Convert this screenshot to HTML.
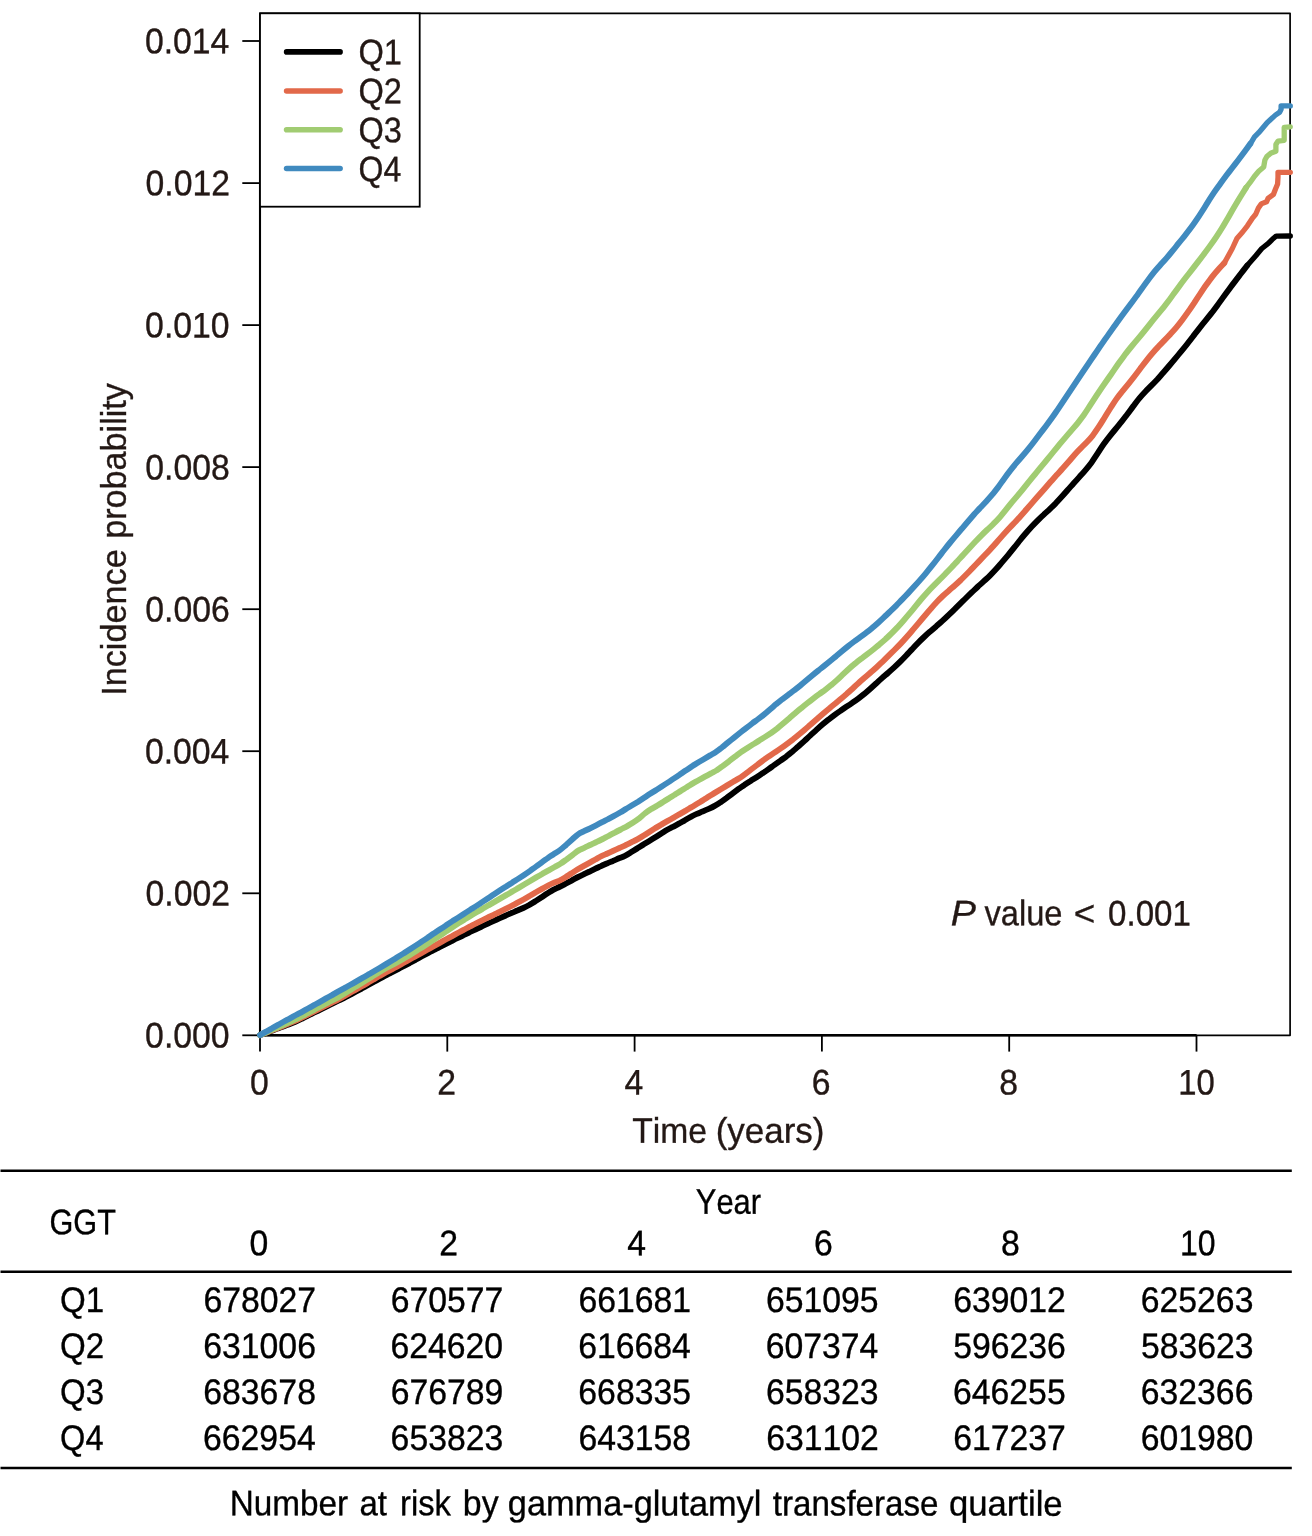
<!DOCTYPE html>
<html lang="en"><head><meta charset="utf-8"><title>Incidence probability by GGT quartile</title>
<style>
html,body{margin:0;padding:0;background:#fff;}
body{width:1312px;height:1536px;overflow:hidden;}
svg{display:block;}
text{font-family:"Liberation Sans",sans-serif;font-size:35.5px;font-kerning:none;stroke-width:0.35px;white-space:pre;}
.c{fill:#231815;stroke:#231815;}
.t{fill:#000;stroke:#000;}
.ln{fill:none;stroke-width:5.5;stroke-linecap:round;stroke-linejoin:round;}
.ax{stroke:#000;stroke-width:2.2;fill:none;}
.tk{stroke:#000;stroke-width:1.8;fill:none;}
.ru{stroke:#000;stroke-width:2.4;}
</style></head><body>
<svg width="1312" height="1536" viewBox="0 0 1312 1536">
<rect width="1312" height="1536" fill="#fff"/>

<rect class="ax" x="260" y="13.3" width="1030.1" height="1022" style="stroke-width:1.7;stroke-linejoin:round"/>
<line class="ax" x1="260" y1="1035.25" x2="1196.6" y2="1035.25" style="stroke-width:2.5"/>
<line class="ax" x1="260" y1="41" x2="260" y2="1035.3" style="stroke-width:2.1"/>
<line class="tk" x1="242.3" y1="1035.3" x2="260" y2="1035.3"/>
<text class="c" y="1047.60" transform="rotate(0.035 187.4 1047.6)"><tspan x="145.11" textLength="84.46" lengthAdjust="spacingAndGlyphs">0.000</tspan></text>
<line class="tk" x1="242.3" y1="893.3" x2="260" y2="893.3"/>
<text class="c" y="905.56" transform="rotate(0.035 187.6 905.6)"><tspan x="145.59" textLength="84.46" lengthAdjust="spacingAndGlyphs">0.002</tspan></text>
<line class="tk" x1="242.3" y1="751.2" x2="260" y2="751.2"/>
<text class="c" y="763.52" transform="rotate(0.035 187.2 763.5)"><tspan x="144.88" textLength="84.46" lengthAdjust="spacingAndGlyphs">0.004</tspan></text>
<line class="tk" x1="242.3" y1="609.2" x2="260" y2="609.2"/>
<text class="c" y="621.48" transform="rotate(0.035 187.5 621.5)"><tspan x="145.35" textLength="84.46" lengthAdjust="spacingAndGlyphs">0.006</tspan></text>
<line class="tk" x1="242.3" y1="467.1" x2="260" y2="467.1"/>
<text class="c" y="479.44" transform="rotate(0.035 187.5 479.4)"><tspan x="145.35" textLength="84.46" lengthAdjust="spacingAndGlyphs">0.008</tspan></text>
<line class="tk" x1="242.3" y1="325.1" x2="260" y2="325.1"/>
<text class="c" y="337.40" transform="rotate(0.035 187.4 337.4)"><tspan x="145.11" textLength="84.46" lengthAdjust="spacingAndGlyphs">0.010</tspan></text>
<line class="tk" x1="242.3" y1="183.1" x2="260" y2="183.1"/>
<text class="c" y="195.36" transform="rotate(0.035 187.6 195.4)"><tspan x="145.59" textLength="84.46" lengthAdjust="spacingAndGlyphs">0.012</tspan></text>
<line class="tk" x1="242.3" y1="41.0" x2="260" y2="41.0"/>
<text class="c" y="53.32" transform="rotate(0.035 187.2 53.3)"><tspan x="144.88" textLength="84.46" lengthAdjust="spacingAndGlyphs">0.014</tspan></text>
<line class="tk" x1="260.0" y1="1035.3" x2="260.0" y2="1051.6"/>
<text class="c" y="1094.60" transform="rotate(0.035 259.3 1094.6)"><tspan x="249.91" textLength="18.77" lengthAdjust="spacingAndGlyphs">0</tspan></text>
<line class="tk" x1="447.3" y1="1035.3" x2="447.3" y2="1051.6"/>
<text class="c" y="1094.60" transform="rotate(0.035 446.6 1094.6)"><tspan x="437.22" textLength="18.77" lengthAdjust="spacingAndGlyphs">2</tspan></text>
<line class="tk" x1="634.6" y1="1035.3" x2="634.6" y2="1051.6"/>
<text class="c" y="1094.60" transform="rotate(0.035 633.9 1094.6)"><tspan x="624.59" textLength="18.77" lengthAdjust="spacingAndGlyphs">4</tspan></text>
<line class="tk" x1="821.9" y1="1035.3" x2="821.9" y2="1051.6"/>
<text class="c" y="1094.60" transform="rotate(0.035 821.2 1094.6)"><tspan x="811.78" textLength="18.77" lengthAdjust="spacingAndGlyphs">6</tspan></text>
<line class="tk" x1="1009.2" y1="1035.3" x2="1009.2" y2="1051.6"/>
<text class="c" y="1094.60" transform="rotate(0.035 1008.5 1094.6)"><tspan x="999.15" textLength="18.77" lengthAdjust="spacingAndGlyphs">8</tspan></text>
<line class="tk" x1="1196.5" y1="1035.3" x2="1196.5" y2="1051.6"/>
<text class="c" y="1094.60" transform="rotate(0.035 1197.2 1094.6)"><tspan x="1178.36" textLength="36.50" lengthAdjust="spacingAndGlyphs">10</tspan></text>
<text class="c" y="1142.70" transform="rotate(0.035 727.6 1142.7)"><tspan x="632.19" textLength="74.76" lengthAdjust="spacingAndGlyphs">Time</tspan> <tspan x="715.68" textLength="108.79" lengthAdjust="spacingAndGlyphs">(years)</tspan></text>
<text class="c" transform="translate(126.3,692.7) rotate(-90)" y="0"><tspan x="-3.13" textLength="146.57" lengthAdjust="spacingAndGlyphs">Incidence</tspan> <tspan x="153.93" textLength="155.73" lengthAdjust="spacingAndGlyphs">probability</tspan></text>
<g stroke="#000000"><path class="ln" style="stroke-width:5.9" d="M260.0,1035.1 C261.0,1034.7 264.0,1033.6 266.0,1032.9 C268.0,1032.1 270.0,1031.4 272.0,1030.6 C274.0,1029.9 276.0,1029.2 277.9,1028.4 C279.9,1027.7 281.9,1026.9 283.9,1026.2 C285.9,1025.4 287.9,1024.7 289.9,1023.9 C291.9,1023.2 293.9,1022.4 295.9,1021.5 C297.9,1020.7 299.9,1019.7 301.9,1018.7 C303.9,1017.8 305.9,1016.7 307.9,1015.7 C309.9,1014.7 311.9,1013.7 313.8,1012.7 C315.8,1011.7 317.8,1010.8 319.8,1009.8 C321.8,1008.8 323.8,1007.8 325.8,1006.8 C327.8,1005.8 329.8,1004.8 331.8,1003.9 C333.8,1002.9 335.8,1001.9 337.8,1000.9 C339.8,1000.0 341.8,999.0 343.8,998.0 C345.8,997.0 347.8,995.9 349.7,994.9 C351.7,993.8 353.7,992.8 355.7,991.7 C357.7,990.6 359.7,989.5 361.7,988.5 C363.7,987.4 365.7,986.3 367.7,985.2 C369.7,984.1 371.7,983.0 373.7,981.9 C375.7,980.9 377.7,979.8 379.7,978.7 C381.7,977.6 383.6,976.6 385.6,975.5 C387.6,974.5 389.6,973.4 391.6,972.4 C393.6,971.3 395.6,970.3 397.6,969.3 C399.6,968.2 401.6,967.2 403.6,966.2 C405.6,965.1 407.6,964.0 409.6,963.0 C411.6,961.9 413.6,960.8 415.6,959.8 C417.6,958.7 419.5,957.6 421.5,956.5 C423.5,955.4 425.5,954.3 427.5,953.3 C429.5,952.2 431.5,951.2 433.5,950.1 C435.5,949.1 437.5,948.0 439.5,947.0 C441.5,946.0 443.5,945.0 445.5,944.0 C447.5,943.0 449.5,942.0 451.5,941.0 C453.5,940.0 455.4,939.0 457.4,938.1 C459.4,937.1 461.4,936.1 463.4,935.2 C465.4,934.2 467.4,933.3 469.4,932.3 C471.4,931.4 473.4,930.4 475.4,929.5 C477.4,928.5 479.4,927.6 481.4,926.7 C483.4,925.7 485.4,924.8 487.4,923.9 C489.3,922.9 491.3,922.0 493.3,921.1 C495.3,920.2 497.3,919.3 499.3,918.4 C501.3,917.5 503.3,916.6 505.3,915.7 C507.3,914.8 509.3,914.0 511.3,913.1 C513.3,912.3 515.3,911.4 517.3,910.6 C519.3,909.7 521.3,908.9 523.3,908.0 C525.2,907.1 527.2,906.1 529.2,905.0 C531.2,903.8 533.2,902.6 535.2,901.4 C537.2,900.1 539.2,898.8 541.2,897.5 C543.2,896.2 545.2,894.8 547.2,893.5 C549.2,892.3 551.2,891.0 553.2,889.9 C555.2,888.8 557.2,888.0 559.2,887.0 C561.1,886.0 563.1,885.0 565.1,884.0 C567.1,882.9 569.1,881.8 571.1,880.8 C573.1,879.7 575.1,878.5 577.1,877.5 C579.1,876.5 581.1,875.5 583.1,874.6 C585.1,873.6 587.1,872.7 589.1,871.8 C591.1,870.8 593.1,869.9 595.0,868.9 C597.0,868.0 599.0,867.0 601.0,866.1 C603.0,865.1 605.0,864.3 607.0,863.4 C609.0,862.6 611.0,861.7 613.0,860.9 C615.0,860.0 617.0,859.2 619.0,858.3 C621.0,857.5 623.0,856.8 625.0,855.8 C627.0,854.8 629.0,853.5 630.9,852.3 C632.9,851.1 634.9,849.8 636.9,848.6 C638.9,847.4 640.9,846.1 642.9,844.9 C644.9,843.7 646.9,842.4 648.9,841.2 C650.9,840.0 652.9,838.8 654.9,837.5 C656.9,836.3 658.9,835.0 660.9,833.7 C662.9,832.5 664.9,831.1 666.8,830.0 C668.8,828.8 670.8,827.9 672.8,826.9 C674.8,825.8 676.8,824.8 678.8,823.7 C680.8,822.6 682.8,821.4 684.8,820.3 C686.8,819.1 688.8,817.9 690.8,816.9 C692.8,815.8 694.8,814.8 696.8,813.9 C698.8,813.0 700.7,812.3 702.7,811.4 C704.7,810.6 706.7,809.8 708.7,808.9 C710.7,808.0 712.7,807.1 714.7,805.9 C716.7,804.8 718.7,803.6 720.7,802.2 C722.7,800.9 724.7,799.3 726.7,797.9 C728.7,796.4 730.7,794.8 732.7,793.3 C734.7,791.8 736.6,790.4 738.6,788.9 C740.6,787.5 742.6,786.2 744.6,784.8 C746.6,783.5 748.6,782.2 750.6,781.0 C752.6,779.7 754.6,778.5 756.6,777.2 C758.6,775.9 760.6,774.6 762.6,773.2 C764.6,771.9 766.6,770.5 768.6,769.1 C770.6,767.7 772.5,766.3 774.5,764.9 C776.5,763.5 778.5,762.1 780.5,760.7 C782.5,759.2 784.5,757.8 786.5,756.3 C788.5,754.7 790.5,753.1 792.5,751.5 C794.5,749.8 796.5,748.0 798.5,746.3 C800.5,744.5 802.5,742.7 804.5,740.9 C806.5,739.1 808.4,737.2 810.4,735.4 C812.4,733.6 814.4,731.7 816.4,729.9 C818.4,728.1 820.4,726.3 822.4,724.6 C824.4,722.9 826.4,721.2 828.4,719.7 C830.4,718.1 832.4,716.6 834.4,715.1 C836.4,713.6 838.4,712.2 840.4,710.9 C842.3,709.5 844.3,708.1 846.3,706.8 C848.3,705.5 850.3,704.2 852.3,702.8 C854.3,701.5 856.3,700.1 858.3,698.6 C860.3,697.1 862.3,695.5 864.3,693.9 C866.3,692.2 868.3,690.5 870.3,688.7 C872.3,686.9 874.3,685.1 876.3,683.3 C878.2,681.5 880.2,679.7 882.2,677.9 C884.2,676.1 886.2,674.5 888.2,672.7 C890.2,671.0 892.2,669.2 894.2,667.4 C896.2,665.6 898.2,663.7 900.2,661.7 C902.2,659.7 904.2,657.6 906.2,655.5 C908.2,653.4 910.2,651.2 912.2,649.1 C914.1,646.9 916.1,644.8 918.1,642.8 C920.1,640.8 922.1,638.9 924.1,637.0 C926.1,635.1 928.1,633.3 930.1,631.6 C932.1,629.8 934.1,628.1 936.1,626.4 C938.1,624.6 940.1,622.9 942.1,621.1 C944.1,619.3 946.1,617.5 948.0,615.6 C950.0,613.7 952.0,611.8 954.0,609.8 C956.0,607.9 958.0,605.9 960.0,603.9 C962.0,601.9 964.0,600.0 966.0,598.0 C968.0,596.0 970.0,594.0 972.0,592.1 C974.0,590.2 976.0,588.4 978.0,586.5 C980.0,584.7 982.0,583.0 983.9,581.2 C985.9,579.3 987.9,577.6 989.9,575.6 C991.9,573.6 993.9,571.5 995.9,569.3 C997.9,567.1 999.9,564.7 1001.9,562.4 C1003.9,560.0 1005.9,557.7 1007.9,555.3 C1009.9,552.9 1011.9,550.4 1013.9,547.9 C1015.9,545.5 1017.9,542.9 1019.8,540.5 C1021.8,538.0 1023.8,535.6 1025.8,533.3 C1027.8,530.9 1029.8,528.7 1031.8,526.5 C1033.8,524.3 1035.8,522.3 1037.8,520.3 C1039.8,518.3 1041.8,516.4 1043.8,514.6 C1045.8,512.7 1047.8,511.0 1049.8,509.1 C1051.8,507.2 1053.7,505.3 1055.7,503.3 C1057.7,501.2 1059.7,499.0 1061.7,496.8 C1063.7,494.6 1065.7,492.3 1067.7,490.0 C1069.7,487.8 1071.7,485.5 1073.7,483.3 C1075.7,481.1 1077.7,478.9 1079.7,476.6 C1081.7,474.4 1083.7,472.2 1085.7,469.8 C1087.7,467.4 1089.6,465.1 1091.6,462.4 C1093.6,459.6 1095.6,456.4 1097.6,453.4 C1099.6,450.4 1101.6,447.1 1103.6,444.3 C1105.6,441.5 1107.6,438.9 1109.6,436.4 C1111.6,433.8 1113.6,431.4 1115.6,429.0 C1117.6,426.5 1119.6,424.2 1121.6,421.7 C1123.6,419.2 1125.5,416.6 1127.5,414.0 C1129.5,411.4 1131.5,408.5 1133.5,405.9 C1135.5,403.2 1137.5,400.5 1139.5,398.1 C1141.5,395.7 1143.5,393.6 1145.5,391.5 C1147.5,389.4 1149.5,387.5 1151.5,385.4 C1153.5,383.4 1155.5,381.3 1157.5,379.2 C1159.4,377.0 1161.4,374.8 1163.4,372.5 C1165.4,370.2 1167.4,367.9 1169.4,365.5 C1171.4,363.2 1173.4,360.8 1175.4,358.4 C1177.4,356.0 1179.4,353.5 1181.4,351.1 C1183.4,348.7 1185.4,346.3 1187.4,343.7 C1189.4,341.2 1191.4,338.6 1193.4,336.0 C1195.3,333.5 1197.3,330.8 1199.3,328.3 C1201.3,325.8 1203.3,323.3 1205.3,320.9 C1207.3,318.4 1209.3,316.0 1211.3,313.4 C1213.3,310.8 1215.3,308.1 1217.3,305.4 C1219.3,302.7 1221.3,299.9 1223.3,297.1 C1225.3,294.4 1227.3,291.6 1229.3,288.9 C1231.2,286.3 1233.2,283.7 1235.2,281.1 C1237.2,278.4 1239.2,275.9 1241.2,273.3 C1243.2,270.7 1246.2,266.8 1247.2,265.5"/>
<path class="ln" style="stroke-width:5.3" d="M1247.2,265.5 L1256.0,255.5 L1261.8,248.5 L1268.0,243.7 L1272.1,239.6 L1276.2,236.1 L1290.3,236.0"/></g>
<g stroke="#E2694A"><path class="ln" style="stroke-width:5.9" d="M260.0,1035.1 C261.0,1034.7 264.0,1033.5 266.0,1032.7 C268.0,1031.9 270.0,1031.1 272.0,1030.3 C274.0,1029.5 276.0,1028.7 278.0,1027.9 C280.0,1027.0 282.0,1026.2 284.0,1025.4 C286.0,1024.6 288.0,1023.8 289.9,1023.0 C291.9,1022.2 293.9,1021.4 295.9,1020.5 C297.9,1019.6 299.9,1018.6 301.9,1017.6 C303.9,1016.7 305.9,1015.6 307.9,1014.6 C309.9,1013.6 311.9,1012.6 313.9,1011.6 C315.9,1010.6 317.9,1009.6 319.9,1008.6 C321.9,1007.6 323.9,1006.6 325.9,1005.6 C327.9,1004.6 329.9,1003.6 331.9,1002.6 C333.9,1001.6 335.9,1000.7 337.9,999.6 C339.9,998.6 341.9,997.5 343.9,996.4 C345.8,995.3 347.8,994.2 349.8,993.0 C351.8,991.9 353.8,990.7 355.8,989.6 C357.8,988.5 359.8,987.3 361.8,986.2 C363.8,985.0 365.8,983.9 367.8,982.8 C369.8,981.6 371.8,980.5 373.8,979.3 C375.8,978.2 377.8,977.0 379.8,975.8 C381.8,974.7 383.8,973.6 385.8,972.5 C387.8,971.4 389.8,970.3 391.8,969.3 C393.8,968.2 395.8,967.2 397.8,966.1 C399.8,965.0 401.8,963.9 403.7,962.8 C405.7,961.7 407.7,960.6 409.7,959.5 C411.7,958.4 413.7,957.2 415.7,956.1 C417.7,955.0 419.7,953.9 421.7,952.8 C423.7,951.7 425.7,950.6 427.7,949.5 C429.7,948.3 431.7,947.2 433.7,946.1 C435.7,945.0 437.7,943.9 439.7,942.8 C441.7,941.7 443.7,940.6 445.7,939.5 C447.7,938.4 449.7,937.3 451.7,936.3 C453.7,935.2 455.7,934.1 457.7,933.0 C459.6,931.9 461.6,930.9 463.6,929.8 C465.6,928.8 467.6,927.7 469.6,926.7 C471.6,925.7 473.6,924.6 475.6,923.6 C477.6,922.6 479.6,921.6 481.6,920.6 C483.6,919.7 485.6,918.7 487.6,917.7 C489.6,916.7 491.6,915.8 493.6,914.8 C495.6,913.8 497.6,912.9 499.6,911.9 C501.6,910.9 503.6,909.9 505.6,908.9 C507.6,907.9 509.6,906.9 511.6,905.9 C513.6,904.8 515.5,903.8 517.5,902.7 C519.5,901.7 521.5,900.6 523.5,899.5 C525.5,898.4 527.5,897.2 529.5,896.0 C531.5,894.9 533.5,893.7 535.5,892.5 C537.5,891.4 539.5,890.2 541.5,889.1 C543.5,887.9 545.5,886.8 547.5,885.8 C549.5,884.7 551.5,883.8 553.5,882.9 C555.5,882.1 557.5,881.5 559.5,880.6 C561.5,879.6 563.5,878.4 565.5,877.2 C567.5,876.0 569.5,874.6 571.5,873.4 C573.4,872.1 575.4,870.7 577.4,869.5 C579.4,868.3 581.4,867.2 583.4,866.1 C585.4,865.0 587.4,863.9 589.4,862.8 C591.4,861.7 593.4,860.6 595.4,859.5 C597.4,858.4 599.4,857.2 601.4,856.2 C603.4,855.2 605.4,854.4 607.4,853.5 C609.4,852.5 611.4,851.6 613.4,850.7 C615.4,849.8 617.4,848.9 619.4,848.0 C621.4,847.1 623.4,846.3 625.4,845.3 C627.4,844.4 629.3,843.4 631.3,842.4 C633.3,841.4 635.3,840.5 637.3,839.4 C639.3,838.3 641.3,837.1 643.3,835.8 C645.3,834.6 647.3,833.3 649.3,832.0 C651.3,830.7 653.3,829.4 655.3,828.1 C657.3,826.9 659.3,825.7 661.3,824.6 C663.3,823.4 665.3,822.3 667.3,821.2 C669.3,820.1 671.3,819.0 673.3,817.8 C675.3,816.7 677.3,815.5 679.3,814.3 C681.3,813.2 683.3,812.0 685.3,810.9 C687.2,809.7 689.2,808.6 691.2,807.4 C693.2,806.3 695.2,805.0 697.2,803.8 C699.2,802.6 701.2,801.3 703.2,800.1 C705.2,798.8 707.2,797.6 709.2,796.3 C711.2,795.1 713.2,793.8 715.2,792.6 C717.2,791.4 719.2,790.2 721.2,789.0 C723.2,787.7 725.2,786.6 727.2,785.4 C729.2,784.2 731.2,783.0 733.2,781.8 C735.2,780.6 737.2,779.6 739.2,778.3 C741.2,777.0 743.1,775.5 745.1,774.1 C747.1,772.6 749.1,771.1 751.1,769.5 C753.1,768.0 755.1,766.5 757.1,765.0 C759.1,763.4 761.1,761.9 763.1,760.4 C765.1,759.0 767.1,757.6 769.1,756.2 C771.1,754.9 773.1,753.6 775.1,752.2 C777.1,750.9 779.1,749.6 781.1,748.2 C783.1,746.8 785.1,745.3 787.1,743.8 C789.1,742.3 791.1,740.8 793.1,739.3 C795.1,737.7 797.1,736.1 799.0,734.5 C801.0,732.9 803.0,731.2 805.0,729.5 C807.0,727.8 809.0,726.0 811.0,724.3 C813.0,722.5 815.0,720.7 817.0,719.0 C819.0,717.2 821.0,715.4 823.0,713.7 C825.0,712.0 827.0,710.3 829.0,708.7 C831.0,707.0 833.0,705.4 835.0,703.8 C837.0,702.1 839.0,700.5 841.0,698.8 C843.0,697.1 845.0,695.4 847.0,693.6 C849.0,691.9 851.0,690.0 853.0,688.2 C855.0,686.4 856.9,684.5 858.9,682.7 C860.9,680.9 862.9,679.2 864.9,677.4 C866.9,675.7 868.9,674.1 870.9,672.3 C872.9,670.6 874.9,668.8 876.9,667.0 C878.9,665.2 880.9,663.2 882.9,661.3 C884.9,659.4 886.9,657.4 888.9,655.4 C890.9,653.4 892.9,651.5 894.9,649.5 C896.9,647.5 898.9,645.5 900.9,643.4 C902.9,641.3 904.9,639.1 906.9,636.8 C908.9,634.5 910.9,632.2 912.8,629.8 C914.8,627.5 916.8,625.1 918.8,622.8 C920.8,620.4 922.8,618.0 924.8,615.7 C926.8,613.3 928.8,610.9 930.8,608.7 C932.8,606.4 934.8,604.1 936.8,602.0 C938.8,599.9 940.8,597.9 942.8,596.0 C944.8,594.1 946.8,592.4 948.8,590.7 C950.8,588.9 952.8,587.3 954.8,585.5 C956.8,583.7 958.8,581.9 960.8,580.0 C962.8,578.0 964.8,576.0 966.8,574.0 C968.8,572.0 970.7,569.9 972.7,567.9 C974.7,565.8 976.7,563.7 978.7,561.6 C980.7,559.5 982.7,557.4 984.7,555.3 C986.7,553.2 988.7,551.1 990.7,548.9 C992.7,546.8 994.7,544.5 996.7,542.2 C998.7,540.0 1000.7,537.7 1002.7,535.4 C1004.7,533.2 1006.7,531.0 1008.7,528.8 C1010.7,526.7 1012.7,524.6 1014.7,522.5 C1016.7,520.3 1018.7,518.2 1020.7,516.0 C1022.7,513.8 1024.7,511.5 1026.6,509.3 C1028.6,507.0 1030.6,504.7 1032.6,502.4 C1034.6,500.1 1036.6,497.8 1038.6,495.6 C1040.6,493.3 1042.6,491.0 1044.6,488.7 C1046.6,486.4 1048.6,484.1 1050.6,481.8 C1052.6,479.6 1054.6,477.3 1056.6,475.1 C1058.6,472.9 1060.6,470.8 1062.6,468.5 C1064.6,466.3 1066.6,464.1 1068.6,461.8 C1070.6,459.5 1072.6,457.0 1074.6,454.7 C1076.6,452.5 1078.6,450.4 1080.6,448.4 C1082.5,446.3 1084.5,444.6 1086.5,442.5 C1088.5,440.4 1090.5,438.3 1092.5,435.8 C1094.5,433.2 1096.5,430.2 1098.5,427.2 C1100.5,424.2 1102.5,420.9 1104.5,417.7 C1106.5,414.5 1108.5,411.1 1110.5,408.0 C1112.5,404.9 1114.5,401.7 1116.5,398.9 C1118.5,396.1 1120.5,393.7 1122.5,391.2 C1124.5,388.7 1126.5,386.3 1128.5,383.9 C1130.5,381.4 1132.5,378.9 1134.5,376.3 C1136.5,373.7 1138.5,371.1 1140.4,368.4 C1142.4,365.8 1144.4,363.1 1146.4,360.6 C1148.4,358.0 1150.4,355.5 1152.4,353.2 C1154.4,350.9 1156.4,348.7 1158.4,346.6 C1160.4,344.4 1162.4,342.5 1164.4,340.4 C1166.4,338.3 1168.4,336.2 1170.4,334.1 C1172.4,331.9 1174.4,329.7 1176.4,327.3 C1178.4,324.9 1180.4,322.4 1182.4,319.7 C1184.4,317.1 1186.4,314.3 1188.4,311.4 C1190.4,308.6 1192.4,305.6 1194.4,302.6 C1196.3,299.6 1198.3,296.5 1200.3,293.6 C1202.3,290.6 1204.3,287.6 1206.3,284.8 C1208.3,282.0 1210.3,279.2 1212.3,276.6 C1214.3,274.1 1216.3,271.7 1218.3,269.5 C1220.3,267.2 1223.3,264.2 1224.3,263.1"/>
<path class="ln" style="stroke-width:5.3" d="M1224.3,263.1 L1232.3,248.5 L1237.1,238.2 L1242.6,232.0 L1247.4,225.8 L1252.9,217.6 L1255.7,214.2 L1258.4,208.0 L1261.2,203.9 L1266.6,201.8 L1268.0,198.4 L1273.5,194.3 L1275.6,188.8 L1277.6,184.0 L1278.0,177.1 L1278.0,172.3 L1290.3,172.3"/></g>
<g stroke="#A1CC72"><path class="ln" style="stroke-width:5.9" d="M260.0,1035.1 C261.0,1034.7 264.0,1033.3 266.0,1032.5 C268.0,1031.6 270.0,1030.7 272.0,1029.8 C274.0,1029.0 276.0,1028.1 278.0,1027.2 C280.0,1026.3 282.0,1025.5 284.1,1024.6 C286.1,1023.7 288.1,1022.8 290.1,1021.9 C292.1,1021.0 294.1,1020.2 296.1,1019.2 C298.1,1018.3 300.1,1017.2 302.1,1016.2 C304.1,1015.2 306.1,1014.1 308.1,1013.0 C310.1,1011.9 312.1,1010.9 314.1,1009.8 C316.1,1008.8 318.1,1007.7 320.1,1006.7 C322.1,1005.6 324.1,1004.6 326.1,1003.5 C328.1,1002.5 330.1,1001.5 332.2,1000.4 C334.2,999.4 336.2,998.4 338.2,997.3 C340.2,996.2 342.2,995.0 344.2,993.8 C346.2,992.6 348.2,991.4 350.2,990.1 C352.2,988.9 354.2,987.7 356.2,986.4 C358.2,985.2 360.2,984.0 362.2,982.7 C364.2,981.5 366.2,980.3 368.2,979.0 C370.2,977.8 372.2,976.5 374.2,975.3 C376.2,974.0 378.3,972.7 380.3,971.5 C382.3,970.2 384.3,969.1 386.3,968.0 C388.3,966.8 390.3,965.9 392.3,964.8 C394.3,963.8 396.3,962.7 398.3,961.6 C400.3,960.5 402.3,959.4 404.3,958.2 C406.3,957.1 408.3,955.9 410.3,954.7 C412.3,953.4 414.3,952.2 416.3,951.0 C418.3,949.7 420.3,948.5 422.3,947.2 C424.3,945.9 426.4,944.6 428.4,943.3 C430.4,941.9 432.4,940.6 434.4,939.3 C436.4,937.9 438.4,936.6 440.4,935.3 C442.4,933.9 444.4,932.6 446.4,931.2 C448.4,929.9 450.4,928.6 452.4,927.3 C454.4,926.0 456.4,924.7 458.4,923.4 C460.4,922.1 462.4,920.8 464.4,919.6 C466.4,918.3 468.4,917.1 470.4,915.9 C472.5,914.7 474.5,913.5 476.5,912.3 C478.5,911.1 480.5,909.9 482.5,908.8 C484.5,907.6 486.5,906.5 488.5,905.3 C490.5,904.2 492.5,903.0 494.5,901.9 C496.5,900.7 498.5,899.6 500.5,898.4 C502.5,897.2 504.5,896.1 506.5,894.9 C508.5,893.8 510.5,892.6 512.5,891.4 C514.5,890.3 516.5,889.1 518.6,887.9 C520.6,886.7 522.6,885.5 524.6,884.3 C526.6,883.1 528.6,881.9 530.6,880.7 C532.6,879.5 534.6,878.3 536.6,877.1 C538.6,876.0 540.6,874.9 542.6,873.7 C544.6,872.6 546.6,871.5 548.6,870.4 C550.6,869.2 552.6,868.1 554.6,867.0 C556.6,865.8 558.6,864.9 560.6,863.6 C562.6,862.3 564.6,860.8 566.7,859.3 C568.7,857.8 570.7,856.3 572.7,854.8 C574.7,853.3 576.7,851.6 578.7,850.4 C580.7,849.2 582.7,848.6 584.7,847.6 C586.7,846.7 588.7,845.7 590.7,844.8 C592.7,843.8 594.7,842.9 596.7,841.9 C598.7,841.0 600.7,840.0 602.7,839.0 C604.7,838.0 606.7,836.8 608.7,835.8 C610.7,834.7 612.8,833.6 614.8,832.6 C616.8,831.5 618.8,830.5 620.8,829.5 C622.8,828.4 624.8,827.5 626.8,826.4 C628.8,825.2 630.8,824.0 632.8,822.7 C634.8,821.5 636.8,820.2 638.8,818.7 C640.8,817.1 642.8,815.0 644.8,813.5 C646.8,811.9 648.8,810.6 650.8,809.3 C652.8,808.1 654.8,807.1 656.8,805.9 C658.8,804.6 660.9,803.3 662.9,802.1 C664.9,800.8 666.9,799.6 668.9,798.4 C670.9,797.1 672.9,795.9 674.9,794.6 C676.9,793.4 678.9,792.1 680.9,790.9 C682.9,789.6 684.9,788.4 686.9,787.1 C688.9,785.9 690.9,784.6 692.9,783.4 C694.9,782.2 696.9,781.2 698.9,780.0 C700.9,778.9 702.9,777.8 704.9,776.7 C707.0,775.6 709.0,774.5 711.0,773.4 C713.0,772.3 715.0,771.4 717.0,770.1 C719.0,768.9 721.0,767.3 723.0,765.8 C725.0,764.3 727.0,762.8 729.0,761.3 C731.0,759.7 733.0,758.2 735.0,756.7 C737.0,755.2 739.0,753.6 741.0,752.2 C743.0,750.8 745.0,749.6 747.0,748.3 C749.0,747.0 751.0,745.7 753.0,744.4 C755.1,743.1 757.1,741.8 759.1,740.6 C761.1,739.3 763.1,738.2 765.1,736.9 C767.1,735.6 769.1,734.3 771.1,733.0 C773.1,731.6 775.1,730.1 777.1,728.6 C779.1,727.0 781.1,725.3 783.1,723.6 C785.1,721.9 787.1,720.1 789.1,718.4 C791.1,716.7 793.1,714.9 795.1,713.2 C797.1,711.5 799.1,709.8 801.2,708.2 C803.2,706.5 805.2,704.9 807.2,703.3 C809.2,701.7 811.2,700.1 813.2,698.6 C815.2,697.1 817.2,695.6 819.2,694.2 C821.2,692.7 823.2,691.3 825.2,689.8 C827.2,688.3 829.2,686.8 831.2,685.1 C833.2,683.5 835.2,681.7 837.2,679.9 C839.2,678.1 841.2,676.1 843.2,674.2 C845.2,672.3 847.3,670.3 849.3,668.5 C851.3,666.7 853.3,665.0 855.3,663.4 C857.3,661.7 859.3,660.2 861.3,658.7 C863.3,657.1 865.3,655.6 867.3,654.1 C869.3,652.6 871.3,651.1 873.3,649.5 C875.3,647.9 877.3,646.2 879.3,644.6 C881.3,642.9 883.3,641.2 885.3,639.4 C887.3,637.5 889.3,635.7 891.3,633.7 C893.3,631.7 895.4,629.5 897.4,627.4 C899.4,625.2 901.4,623.0 903.4,620.7 C905.4,618.4 907.4,616.1 909.4,613.7 C911.4,611.3 913.4,608.8 915.4,606.4 C917.4,603.9 919.4,601.4 921.4,599.0 C923.4,596.7 925.4,594.4 927.4,592.2 C929.4,590.0 931.4,587.9 933.4,585.9 C935.4,583.8 937.4,581.8 939.4,579.8 C941.5,577.8 943.5,575.8 945.5,573.7 C947.5,571.7 949.5,569.6 951.5,567.5 C953.5,565.4 955.5,563.2 957.5,561.1 C959.5,558.9 961.5,556.8 963.5,554.6 C965.5,552.4 967.5,550.2 969.5,548.0 C971.5,545.8 973.5,543.6 975.5,541.5 C977.5,539.4 979.5,537.3 981.5,535.3 C983.5,533.3 985.5,531.4 987.5,529.5 C989.6,527.6 991.6,525.8 993.6,523.7 C995.6,521.7 997.6,519.6 999.6,517.4 C1001.6,515.1 1003.6,512.6 1005.6,510.1 C1007.6,507.7 1009.6,505.2 1011.6,502.7 C1013.6,500.3 1015.6,498.0 1017.6,495.6 C1019.6,493.2 1021.6,490.8 1023.6,488.3 C1025.6,485.9 1027.6,483.3 1029.6,480.9 C1031.6,478.4 1033.6,475.9 1035.7,473.5 C1037.7,471.0 1039.7,468.6 1041.7,466.2 C1043.7,463.8 1045.7,461.4 1047.7,458.9 C1049.7,456.5 1051.7,454.0 1053.7,451.5 C1055.7,449.1 1057.7,446.6 1059.7,444.2 C1061.7,441.8 1063.7,439.4 1065.7,437.1 C1067.7,434.7 1069.7,432.4 1071.7,430.1 C1073.7,427.8 1075.7,425.6 1077.7,423.1 C1079.7,420.5 1081.7,417.9 1083.8,415.0 C1085.8,412.2 1087.8,409.0 1089.8,405.9 C1091.8,402.9 1093.8,399.8 1095.8,396.7 C1097.8,393.7 1099.8,390.7 1101.8,387.7 C1103.8,384.8 1105.8,381.9 1107.8,379.0 C1109.8,376.1 1111.8,373.3 1113.8,370.4 C1115.8,367.5 1117.8,364.6 1119.8,361.8 C1121.8,359.1 1123.8,356.3 1125.8,353.6 C1127.8,351.0 1129.9,348.4 1131.9,346.0 C1133.9,343.6 1135.9,341.3 1137.9,338.9 C1139.9,336.5 1141.9,334.1 1143.9,331.6 C1145.9,329.1 1147.9,326.6 1149.9,324.1 C1151.9,321.6 1153.9,319.1 1155.9,316.7 C1157.9,314.2 1159.9,311.8 1161.9,309.4 C1163.9,306.9 1165.9,304.5 1167.9,301.8 C1169.9,299.2 1171.9,296.3 1173.9,293.5 C1176.0,290.7 1178.0,287.9 1180.0,285.2 C1182.0,282.5 1184.0,279.9 1186.0,277.3 C1188.0,274.7 1190.0,272.2 1192.0,269.6 C1194.0,267.1 1196.0,264.5 1198.0,261.9 C1200.0,259.3 1202.0,256.7 1204.0,254.0 C1206.0,251.4 1208.0,248.7 1210.0,245.9 C1212.0,243.2 1214.0,240.4 1216.0,237.4 C1218.0,234.4 1220.0,231.3 1222.0,228.0 C1224.1,224.7 1226.1,221.1 1228.1,217.7 C1230.1,214.2 1232.1,210.6 1234.1,207.2 C1236.1,203.8 1238.1,200.5 1240.1,197.2 C1242.1,194.0 1245.1,189.3 1246.1,187.7"/>
<path class="ln" style="stroke-width:5.3" d="M1246.1,187.7 L1250.3,182.2 L1254.3,176.5 L1258.7,171.3 L1263.7,167.0 L1264.9,160.0 L1267.1,156.2 L1271.2,152.9 L1275.9,151.2 L1275.9,144.5 L1278.0,141.1 L1284.2,140.3 L1284.2,127.3 L1290.3,126.9"/></g>
<g stroke="#408ABF"><path class="ln" style="stroke-width:5.9" d="M260.0,1035.1 C261.0,1034.5 264.0,1032.8 266.0,1031.7 C268.0,1030.5 270.0,1029.4 272.0,1028.3 C274.0,1027.1 276.0,1026.0 278.0,1024.9 C280.0,1023.8 282.0,1022.6 284.0,1021.5 C286.0,1020.4 288.0,1019.4 290.0,1018.3 C292.0,1017.2 294.0,1016.1 296.0,1015.0 C298.0,1013.9 300.0,1012.9 302.0,1011.8 C304.0,1010.7 306.0,1009.6 308.0,1008.5 C310.0,1007.4 312.0,1006.3 314.0,1005.2 C316.0,1004.1 318.0,1002.9 320.0,1001.8 C322.0,1000.7 324.0,999.6 326.0,998.4 C328.0,997.3 330.0,996.2 332.0,995.1 C334.0,993.9 336.0,992.8 338.0,991.7 C340.0,990.6 342.0,989.5 344.0,988.4 C346.0,987.2 348.0,986.1 350.0,985.0 C352.0,983.9 354.0,982.8 356.0,981.6 C358.0,980.5 360.0,979.3 362.0,978.2 C364.0,977.1 366.0,975.9 368.0,974.7 C370.0,973.6 372.0,972.4 374.0,971.2 C376.0,970.0 378.0,968.9 380.0,967.7 C382.0,966.5 384.0,965.3 386.0,964.1 C388.0,962.9 390.0,961.7 392.0,960.5 C394.0,959.3 396.0,958.0 398.0,956.8 C400.0,955.6 402.0,954.4 404.0,953.1 C406.0,951.9 408.0,950.6 410.0,949.3 C412.0,948.0 414.0,946.7 416.0,945.4 C418.0,944.1 420.0,942.8 422.0,941.4 C424.0,940.1 426.1,938.7 428.1,937.3 C430.1,936.0 432.1,934.6 434.1,933.3 C436.1,931.9 438.1,930.6 440.1,929.3 C442.1,928.0 444.1,926.7 446.1,925.3 C448.1,924.0 450.1,922.7 452.1,921.4 C454.1,920.1 456.1,918.9 458.1,917.6 C460.1,916.3 462.1,915.0 464.1,913.7 C466.1,912.5 468.1,911.2 470.1,909.9 C472.1,908.6 474.1,907.4 476.1,906.1 C478.1,904.8 480.1,903.5 482.1,902.1 C484.1,900.8 486.1,899.5 488.1,898.2 C490.1,896.9 492.1,895.5 494.1,894.2 C496.1,892.9 498.1,891.6 500.1,890.3 C502.1,889.0 504.1,887.7 506.1,886.5 C508.1,885.2 510.1,883.9 512.1,882.7 C514.1,881.4 516.1,880.2 518.1,878.9 C520.1,877.6 522.1,876.3 524.1,875.0 C526.1,873.7 528.1,872.3 530.1,870.9 C532.1,869.4 534.1,868.0 536.1,866.5 C538.1,865.0 540.1,863.6 542.1,862.1 C544.1,860.7 546.1,859.2 548.1,857.8 C550.1,856.4 552.1,855.2 554.1,853.8 C556.1,852.5 558.1,851.5 560.1,850.0 C562.1,848.5 564.1,846.6 566.1,844.9 C568.1,843.1 570.1,841.3 572.1,839.5 C574.1,837.8 576.1,835.7 578.1,834.3 C580.1,832.9 582.1,832.2 584.1,831.2 C586.1,830.2 588.1,829.3 590.1,828.3 C592.1,827.3 594.1,826.3 596.1,825.3 C598.1,824.3 600.1,823.3 602.1,822.2 C604.1,821.2 606.1,820.1 608.1,819.1 C610.1,818.0 612.1,816.9 614.1,815.8 C616.1,814.8 618.1,813.7 620.1,812.5 C622.1,811.4 624.1,810.1 626.1,808.9 C628.1,807.6 630.1,806.5 632.1,805.3 C634.1,804.1 636.1,802.9 638.1,801.7 C640.1,800.4 642.1,799.1 644.1,797.8 C646.1,796.5 648.1,795.1 650.1,793.8 C652.1,792.5 654.1,791.3 656.1,790.1 C658.1,788.8 660.1,787.5 662.1,786.2 C664.1,785.0 666.1,783.7 668.1,782.4 C670.1,781.1 672.1,779.7 674.1,778.4 C676.1,777.1 678.1,775.7 680.1,774.3 C682.1,773.0 684.1,771.6 686.1,770.3 C688.1,768.9 690.1,767.5 692.1,766.2 C694.1,764.9 696.1,763.8 698.1,762.5 C700.1,761.3 702.1,760.2 704.1,759.0 C706.1,757.8 708.1,756.6 710.1,755.4 C712.1,754.2 714.1,753.2 716.1,751.8 C718.1,750.5 720.1,748.8 722.1,747.3 C724.1,745.7 726.1,744.0 728.1,742.4 C730.1,740.8 732.1,739.2 734.1,737.6 C736.1,736.0 738.1,734.4 740.1,732.8 C742.1,731.2 744.1,729.7 746.1,728.1 C748.1,726.6 750.1,725.1 752.1,723.5 C754.1,722.0 756.2,720.5 758.2,719.0 C760.2,717.5 762.2,716.0 764.2,714.4 C766.2,712.8 768.2,711.0 770.2,709.3 C772.2,707.6 774.2,705.8 776.2,704.1 C778.2,702.5 780.2,700.9 782.2,699.3 C784.2,697.8 786.2,696.3 788.2,694.8 C790.2,693.3 792.2,691.9 794.2,690.3 C796.2,688.8 798.2,687.2 800.2,685.6 C802.2,684.0 804.2,682.3 806.2,680.6 C808.2,678.9 810.2,677.2 812.2,675.5 C814.2,673.8 816.2,672.2 818.2,670.6 C820.2,669.0 822.2,667.5 824.2,665.9 C826.2,664.3 828.2,662.7 830.2,661.0 C832.2,659.4 834.2,657.7 836.2,656.1 C838.2,654.4 840.2,652.7 842.2,651.0 C844.2,649.3 846.2,647.7 848.2,646.1 C850.2,644.5 852.2,643.0 854.2,641.5 C856.2,640.0 858.2,638.6 860.2,637.1 C862.2,635.7 864.2,634.3 866.2,632.7 C868.2,631.2 870.2,629.6 872.2,627.9 C874.2,626.3 876.2,624.5 878.2,622.7 C880.2,620.9 882.2,619.0 884.2,617.1 C886.2,615.2 888.2,613.4 890.2,611.4 C892.2,609.5 894.2,607.6 896.2,605.6 C898.2,603.5 900.2,601.5 902.2,599.4 C904.2,597.3 906.2,595.2 908.2,593.1 C910.2,591.0 912.2,588.8 914.2,586.6 C916.2,584.4 918.2,582.2 920.2,579.9 C922.2,577.6 924.2,575.2 926.2,572.8 C928.2,570.4 930.2,567.9 932.2,565.4 C934.2,562.9 936.2,560.3 938.2,557.7 C940.2,555.2 942.2,552.5 944.2,550.0 C946.2,547.4 948.2,544.9 950.2,542.5 C952.2,540.1 954.2,537.7 956.2,535.4 C958.2,533.0 960.2,530.6 962.2,528.3 C964.2,525.9 966.2,523.5 968.2,521.2 C970.2,518.9 972.2,516.6 974.2,514.3 C976.2,512.1 978.2,510.0 980.2,507.8 C982.2,505.7 984.2,503.7 986.2,501.5 C988.2,499.3 990.2,497.1 992.2,494.7 C994.2,492.3 996.2,489.7 998.2,487.1 C1000.2,484.4 1002.2,481.4 1004.2,478.7 C1006.2,475.9 1008.2,473.1 1010.2,470.6 C1012.2,468.0 1014.2,465.6 1016.2,463.2 C1018.2,460.8 1020.2,458.5 1022.2,456.2 C1024.2,453.9 1026.2,451.6 1028.2,449.1 C1030.2,446.7 1032.2,444.1 1034.2,441.5 C1036.2,438.9 1038.2,436.3 1040.2,433.6 C1042.2,431.0 1044.2,428.3 1046.2,425.7 C1048.2,423.0 1050.2,420.3 1052.2,417.5 C1054.2,414.7 1056.2,411.7 1058.2,408.8 C1060.2,405.8 1062.2,402.8 1064.2,399.8 C1066.2,396.8 1068.2,393.8 1070.2,390.8 C1072.2,387.8 1074.2,384.8 1076.2,381.8 C1078.2,378.8 1080.2,375.9 1082.2,372.9 C1084.2,369.9 1086.3,366.9 1088.3,363.9 C1090.3,360.9 1092.3,358.0 1094.3,355.0 C1096.3,352.1 1098.3,349.1 1100.3,346.2 C1102.3,343.3 1104.3,340.4 1106.3,337.6 C1108.3,334.7 1110.3,331.9 1112.3,329.1 C1114.3,326.3 1116.3,323.5 1118.3,320.8 C1120.3,318.0 1122.3,315.3 1124.3,312.6 C1126.3,309.9 1128.3,307.3 1130.3,304.6 C1132.3,301.9 1134.3,299.2 1136.3,296.4 C1138.3,293.6 1140.3,290.7 1142.3,288.0 C1144.3,285.2 1146.3,282.3 1148.3,279.7 C1150.3,277.0 1152.3,274.4 1154.3,271.9 C1156.3,269.5 1158.3,267.3 1160.3,265.0 C1162.3,262.8 1164.3,260.7 1166.3,258.4 C1168.3,256.1 1170.3,253.7 1172.3,251.2 C1174.3,248.8 1176.3,246.2 1178.3,243.7 C1180.3,241.2 1182.3,238.8 1184.3,236.3 C1186.3,233.8 1188.3,231.3 1190.3,228.6 C1192.3,226.0 1194.3,223.2 1196.3,220.2 C1198.3,217.3 1200.3,214.2 1202.3,211.0 C1204.3,207.9 1206.3,204.5 1208.3,201.4 C1210.3,198.2 1212.3,195.2 1214.3,192.2 C1216.3,189.3 1218.3,186.6 1220.3,183.8 C1222.3,181.0 1224.3,178.3 1226.3,175.6 C1228.3,173.0 1230.3,170.3 1232.3,167.7 C1234.3,165.1 1236.3,162.6 1238.3,160.0 C1240.3,157.4 1242.3,154.8 1244.3,152.1 C1246.3,149.4 1249.3,145.2 1250.3,143.8"/>
<path class="ln" style="stroke-width:5.3" d="M1250.3,143.8 L1254.5,136.9 L1258.7,132.7 L1267.1,122.7 L1275.4,115.1 L1279.6,112.2 L1281.1,109.3 L1281.1,105.9 L1290.3,105.9"/></g>
<rect class="ax" x="260" y="13.3" width="159.7" height="193.4" style="fill:#fff;stroke-width:1.8"/>
<line x1="286.6" y1="51.9" x2="340.1" y2="51.9" stroke="#000000" stroke-width="5.6" stroke-linecap="round"/>
<text class="c" y="64.20" transform="rotate(0.035 380.2 64.2)"><tspan x="358.51" textLength="43.48" lengthAdjust="spacingAndGlyphs">Q1</tspan></text>
<line x1="286.6" y1="91.0" x2="340.1" y2="91.0" stroke="#E2694A" stroke-width="5.6" stroke-linecap="round"/>
<text class="c" y="103.20" transform="rotate(0.035 380.2 103.2)"><tspan x="358.51" textLength="43.48" lengthAdjust="spacingAndGlyphs">Q2</tspan></text>
<line x1="286.6" y1="129.8" x2="340.1" y2="129.8" stroke="#A1CC72" stroke-width="5.6" stroke-linecap="round"/>
<text class="c" y="142.20" transform="rotate(0.035 380.2 142.2)"><tspan x="358.51" textLength="43.36" lengthAdjust="spacingAndGlyphs">Q3</tspan></text>
<line x1="286.6" y1="168.5" x2="340.1" y2="168.5" stroke="#408ABF" stroke-width="5.6" stroke-linecap="round"/>
<text class="c" y="181.20" transform="rotate(0.035 380.2 181.2)"><tspan x="358.53" textLength="42.75" lengthAdjust="spacingAndGlyphs">Q4</tspan></text>
<text class="c" y="925.40" transform="rotate(0.035 1070.6 925.4)"><tspan x="950.70" textLength="25.19" lengthAdjust="spacingAndGlyphs" font-style="italic">P</tspan> <tspan x="984.49" textLength="77.90" lengthAdjust="spacingAndGlyphs">value</tspan> <tspan x="1073.88" textLength="21.51" lengthAdjust="spacingAndGlyphs">&lt;</tspan> <tspan x="1108.12" textLength="82.78" lengthAdjust="spacingAndGlyphs">0.001</tspan></text>
<line class="ru" x1="0.5" y1="1170.7" x2="1291.8" y2="1170.7"/>
<line class="ru" x1="0.5" y1="1271.7" x2="1291.8" y2="1271.7"/>
<line class="ru" x1="0.5" y1="1468.0" x2="1291.8" y2="1468.0"/>
<text class="t" y="1234.30" transform="rotate(0.035 83.1 1234.3)"><tspan x="49.49" textLength="66.39" lengthAdjust="spacingAndGlyphs">GGT</tspan></text>
<text class="t" y="1213.70" transform="rotate(0.035 728.5 1213.7)"><tspan x="695.84" textLength="65.19" lengthAdjust="spacingAndGlyphs">Year</tspan></text>
<text class="t" y="1255.30" transform="rotate(0.035 258.9 1255.3)"><tspan x="249.51" textLength="18.77" lengthAdjust="spacingAndGlyphs">0</tspan></text>
<text class="t" y="1255.30" transform="rotate(0.035 448.6 1255.3)"><tspan x="439.21" textLength="18.77" lengthAdjust="spacingAndGlyphs">2</tspan></text>
<text class="t" y="1255.30" transform="rotate(0.035 636.6 1255.3)"><tspan x="627.27" textLength="18.77" lengthAdjust="spacingAndGlyphs">4</tspan></text>
<text class="t" y="1255.30" transform="rotate(0.035 823.5 1255.3)"><tspan x="814.05" textLength="18.77" lengthAdjust="spacingAndGlyphs">6</tspan></text>
<text class="t" y="1255.30" transform="rotate(0.035 1010.5 1255.3)"><tspan x="1001.11" textLength="18.77" lengthAdjust="spacingAndGlyphs">8</tspan></text>
<text class="t" y="1255.30" transform="rotate(0.035 1198.3 1255.3)"><tspan x="1179.93" textLength="35.50" lengthAdjust="spacingAndGlyphs">10</tspan></text>
<text class="t" y="1312.00" transform="rotate(0.035 82.1 1312.0)"><tspan x="60.09" textLength="44.13" lengthAdjust="spacingAndGlyphs">Q1</tspan></text>
<text class="t" y="1312.00" transform="rotate(0.035 259.7 1312.0)"><tspan x="203.43" textLength="112.62" lengthAdjust="spacingAndGlyphs">678027</tspan></text>
<text class="t" y="1312.00" transform="rotate(0.035 447.0 1312.0)"><tspan x="390.73" textLength="112.62" lengthAdjust="spacingAndGlyphs">670577</tspan></text>
<text class="t" y="1312.00" transform="rotate(0.035 634.8 1312.0)"><tspan x="578.47" textLength="112.62" lengthAdjust="spacingAndGlyphs">661681</tspan></text>
<text class="t" y="1312.00" transform="rotate(0.035 822.4 1312.0)"><tspan x="765.95" textLength="112.62" lengthAdjust="spacingAndGlyphs">651095</tspan></text>
<text class="t" y="1312.00" transform="rotate(0.035 1009.5 1312.0)"><tspan x="953.23" textLength="112.62" lengthAdjust="spacingAndGlyphs">639012</tspan></text>
<text class="t" y="1312.00" transform="rotate(0.035 1197.2 1312.0)"><tspan x="1140.81" textLength="112.62" lengthAdjust="spacingAndGlyphs">625263</tspan></text>
<text class="t" y="1358.00" transform="rotate(0.035 82.1 1358.0)"><tspan x="60.09" textLength="44.13" lengthAdjust="spacingAndGlyphs">Q2</tspan></text>
<text class="t" y="1358.00" transform="rotate(0.035 259.7 1358.0)"><tspan x="203.31" textLength="112.62" lengthAdjust="spacingAndGlyphs">631006</tspan></text>
<text class="t" y="1358.00" transform="rotate(0.035 447.0 1358.0)"><tspan x="390.49" textLength="112.62" lengthAdjust="spacingAndGlyphs">624620</tspan></text>
<text class="t" y="1358.00" transform="rotate(0.035 634.8 1358.0)"><tspan x="578.17" textLength="112.62" lengthAdjust="spacingAndGlyphs">616684</tspan></text>
<text class="t" y="1358.00" transform="rotate(0.035 822.4 1358.0)"><tspan x="765.77" textLength="112.62" lengthAdjust="spacingAndGlyphs">607374</tspan></text>
<text class="t" y="1358.00" transform="rotate(0.035 1009.5 1358.0)"><tspan x="953.23" textLength="112.62" lengthAdjust="spacingAndGlyphs">596236</tspan></text>
<text class="t" y="1358.00" transform="rotate(0.035 1197.2 1358.0)"><tspan x="1140.93" textLength="112.62" lengthAdjust="spacingAndGlyphs">583623</tspan></text>
<text class="t" y="1404.00" transform="rotate(0.035 82.1 1404.0)"><tspan x="60.09" textLength="44.00" lengthAdjust="spacingAndGlyphs">Q3</tspan></text>
<text class="t" y="1404.00" transform="rotate(0.035 259.7 1404.0)"><tspan x="203.31" textLength="112.62" lengthAdjust="spacingAndGlyphs">683678</tspan></text>
<text class="t" y="1404.00" transform="rotate(0.035 447.0 1404.0)"><tspan x="390.67" textLength="112.62" lengthAdjust="spacingAndGlyphs">676789</tspan></text>
<text class="t" y="1404.00" transform="rotate(0.035 634.8 1404.0)"><tspan x="578.35" textLength="112.62" lengthAdjust="spacingAndGlyphs">668335</tspan></text>
<text class="t" y="1404.00" transform="rotate(0.035 822.4 1404.0)"><tspan x="766.01" textLength="112.62" lengthAdjust="spacingAndGlyphs">658323</tspan></text>
<text class="t" y="1404.00" transform="rotate(0.035 1009.5 1404.0)"><tspan x="953.05" textLength="112.62" lengthAdjust="spacingAndGlyphs">646255</tspan></text>
<text class="t" y="1404.00" transform="rotate(0.035 1197.2 1404.0)"><tspan x="1140.81" textLength="112.62" lengthAdjust="spacingAndGlyphs">632366</tspan></text>
<text class="t" y="1450.00" transform="rotate(0.035 82.1 1450.0)"><tspan x="60.11" textLength="43.39" lengthAdjust="spacingAndGlyphs">Q4</tspan></text>
<text class="t" y="1450.00" transform="rotate(0.035 259.7 1450.0)"><tspan x="203.07" textLength="112.62" lengthAdjust="spacingAndGlyphs">662954</tspan></text>
<text class="t" y="1450.00" transform="rotate(0.035 447.0 1450.0)"><tspan x="390.61" textLength="112.62" lengthAdjust="spacingAndGlyphs">653823</tspan></text>
<text class="t" y="1450.00" transform="rotate(0.035 634.8 1450.0)"><tspan x="578.41" textLength="112.62" lengthAdjust="spacingAndGlyphs">643158</tspan></text>
<text class="t" y="1450.00" transform="rotate(0.035 822.4 1450.0)"><tspan x="766.13" textLength="112.62" lengthAdjust="spacingAndGlyphs">631102</tspan></text>
<text class="t" y="1450.00" transform="rotate(0.035 1009.5 1450.0)"><tspan x="953.23" textLength="112.62" lengthAdjust="spacingAndGlyphs">617237</tspan></text>
<text class="t" y="1450.00" transform="rotate(0.035 1197.2 1450.0)"><tspan x="1140.69" textLength="112.62" lengthAdjust="spacingAndGlyphs">601980</tspan></text>
<text class="t" y="1515.40" transform="rotate(0.035 646.8 1515.4)"><tspan x="229.70" textLength="118.39" lengthAdjust="spacingAndGlyphs">Number</tspan> <tspan x="359.51" textLength="27.51" lengthAdjust="spacingAndGlyphs">at</tspan> <tspan x="400.01" textLength="50.85" lengthAdjust="spacingAndGlyphs">risk</tspan> <tspan x="462.85" textLength="35.76" lengthAdjust="spacingAndGlyphs">by</tspan> <tspan x="507.85" textLength="253.55" lengthAdjust="spacingAndGlyphs">gamma-glutamyl</tspan> <tspan x="772.73" textLength="165.75" lengthAdjust="spacingAndGlyphs">transferase</tspan> <tspan x="948.94" textLength="113.69" lengthAdjust="spacingAndGlyphs">quartile</tspan></text>
</svg></body></html>
